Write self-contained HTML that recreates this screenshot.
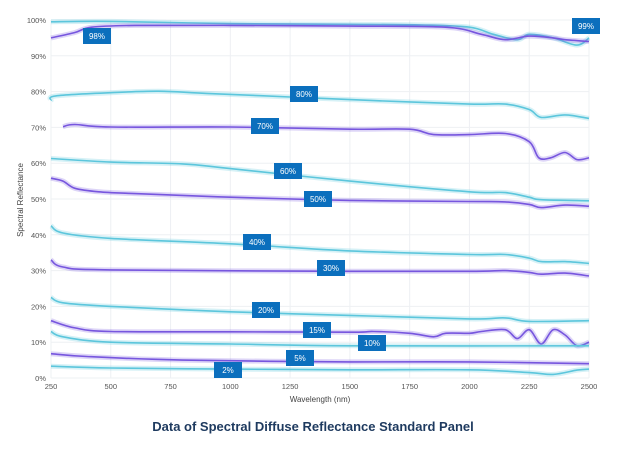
<!DOCTYPE html>
<html><head><meta charset="utf-8"><style>
html,body{margin:0;padding:0;background:#fff;}
svg{display:block;font-family:"Liberation Sans",sans-serif;}
</style></head><body>
<svg id="s" width="627" height="450" xmlns="http://www.w3.org/2000/svg"></svg>
<script>
const S=document.getElementById('s');
const X=w=>51+(w-250)*538/2250, Y=v=>378-v*3.58;
let h='';
for(let v=0;v<=100;v+=10){h+=`<line x1="51" x2="589" y1="${Y(v)}" y2="${Y(v)}" stroke="#eef0f3" stroke-width="1"/>`;
h+=`<text x="46" y="${Y(v)+3}" font-size="7.5" fill="#555" text-anchor="end">${v}%</text>`;}
for(let w=250;w<=2500;w+=250){h+=`<line x1="${X(w)}" x2="${X(w)}" y1="20" y2="378" stroke="#eef0f3"/>`;
h+=`<text x="${X(w)}" y="389" font-size="7.5" fill="#555" text-anchor="middle">${w}</text>`;}
const C='#5cc6dc',P='#7756de';
const ser=[
[C,[[250,99.5],[500,99.6],[1000,99],[1500,98.8],[1800,98.6],[2000,98],[2100,96],[2200,94.5],[2250,96],[2350,95],[2450,93],[2500,95]]],
[P,[[250,95],[350,96.5],[420,98],[600,98.5],[1000,98.5],[1500,98.3],[1900,98],[2050,96],[2150,94.5],[2250,95.5],[2350,95],[2400,94.5],[2500,94]]],
[C,[[250,77.5],[270,78.8],[500,79.7],[700,80.1],[900,79.5],[1250,78.5],[1600,77.5],[2000,76.5],[2150,76.5],[2250,75],[2300,72.8],[2400,73.5],[2500,72.5]]],
[P,[[300,70.2],[350,70.8],[500,70.1],[1000,70.1],[1500,69.5],[1750,69.5],[1850,68],[2000,68],[2150,68.3],[2250,66],[2290,61.5],[2340,61.5],[2400,63],[2450,61],[2500,61.5]]],
[C,[[250,61.3],[500,60.3],[800,59.8],[1000,58.5],[1500,55],[2000,52],[2150,51.8],[2250,50.5],[2300,49.8],[2500,49.5]]],
[P,[[250,55.8],[300,55],[350,53],[450,52],[600,51.5],[1000,50.5],[1500,49.6],[2000,49.3],[2150,49.2],[2250,48.5],[2300,47.6],[2400,48.3],[2500,48]]],
[C,[[250,42.5],[300,40.5],[500,39],[1000,37.5],[1500,35.5],[2000,34.5],[2150,34.5],[2250,33.5],[2300,32.5],[2400,32.5],[2500,32]]],
[P,[[250,33],[300,31],[500,30.2],[1500,29.8],[2000,29.8],[2150,30],[2250,29.5],[2300,29],[2400,29.3],[2500,28.5]]],
[C,[[250,22.5],[300,21],[500,20],[1000,18.5],[1500,17.5],[2000,16.5],[2150,16.8],[2250,15.8],[2500,16]]],
[P,[[250,16],[350,14],[500,13],[1000,12.9],[1500,12.8],[1600,13],[1750,12.5],[1850,11.5],[1900,12.5],[2000,12.5],[2050,13],[2150,13.5],[2200,11],[2250,13.5],[2300,9.5],[2350,13.5],[2400,12],[2450,9],[2500,10]]],
[C,[[250,13],[300,11.5],[500,10],[1000,9.5],[1500,9],[2500,9]]],
[P,[[250,6.8],[400,6],[800,5],[1500,4.5],[2000,4.5],[2500,4]]],
[C,[[250,3.3],[500,2.8],[1000,2.5],[1500,2.3],[2000,2.3],[2250,1.5],[2350,1.0],[2450,2.2],[2500,2.5]]]];
function smooth(p){const q=p.map(a=>[X(a[0]),Y(a[1])]);let d=`M${q[0][0].toFixed(1)},${q[0][1].toFixed(1)}`;
for(let i=0;i<q.length-1;i++){const p0=q[i-1]||q[i],p1=q[i],p2=q[i+1],p3=q[i+2]||p2;
const c1=[p1[0]+(p2[0]-p0[0])/6,p1[1]+(p2[1]-p0[1])/6],c2=[p2[0]-(p3[0]-p1[0])/6,p2[1]-(p3[1]-p1[1])/6];
d+=` C${c1[0].toFixed(1)},${c1[1].toFixed(1)} ${c2[0].toFixed(1)},${c2[1].toFixed(1)} ${p2[0].toFixed(1)},${p2[1].toFixed(1)}`;}return d;}
for(const [c,p] of ser){const d=smooth(p);
h+=`<path d="${d}" fill="none" stroke="${c}" stroke-opacity="0.25" stroke-width="5" stroke-linejoin="round"/>`;
h+=`<path d="${d}" fill="none" stroke="${c}" stroke-width="1.6" stroke-linejoin="round"/>`;}
const labs=[['98%',97,36],['99%',586,26],['80%',304,94],['70%',265,126],['60%',288,171],['50%',318,199],['40%',257,242],['30%',331,268],['20%',266,310],['15%',317,330],['10%',372,343],['5%',300,358],['2%',228,370]];
for(const [t,x,y] of labs){h+=`<rect x="${x-14}" y="${y-8}" width="28" height="16" fill="#0b6fbd"/><text x="${x}" y="${y+3}" font-size="8" fill="#fff" text-anchor="middle">${t}</text>`;}
h+=`<text x="320" y="402" font-size="8" fill="#444" text-anchor="middle">Wavelength (nm)</text>`;
h+=`<text transform="translate(23,200) rotate(-90)" font-size="8" fill="#444" text-anchor="middle">Spectral Reflectance</text>`;
h+=`<text x="313" y="431" font-size="13" font-weight="bold" fill="#1e3a5f" text-anchor="middle">Data of Spectral Diffuse Reflectance Standard Panel</text>`;
S.innerHTML=h;
</script>
</body></html>
